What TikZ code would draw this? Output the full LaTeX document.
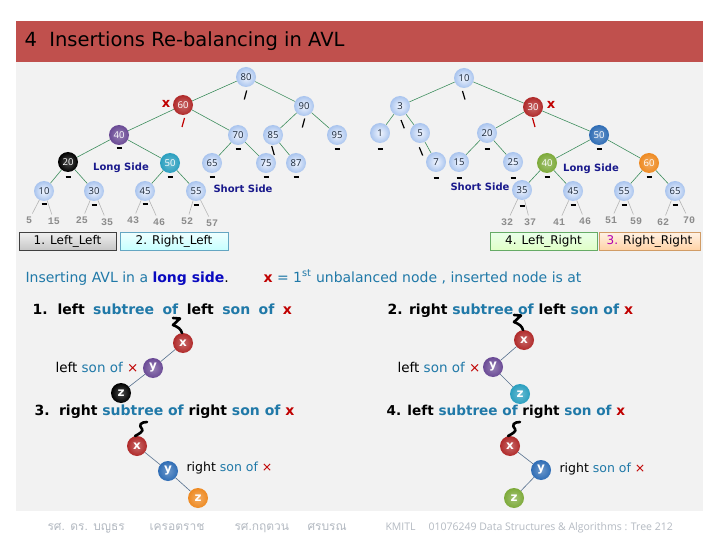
\documentclass[tikz,border=0pt]{standalone}
\usepackage{fontspec}
\setmainfont{DejaVu Sans}
\newfontfamily\numf{Open Sans}
\newfontfamily\thaifont[Script=Thai]{Loma}
\newfontfamily\monof{Liberation Mono}
\definecolor{titlered}{HTML}{C0504D}
\definecolor{panel}{HTML}{F2F2F2}
\definecolor{lblueO}{HTML}{A9C4EE}
\definecolor{lblueI}{HTML}{F2F6FF}
\definecolor{nodetext}{HTML}{1C2838}
\definecolor{redn}{HTML}{B02A2A}
\definecolor{purplen}{HTML}{6A4A95}
\definecolor{tealn}{HTML}{2A9FBF}
\definecolor{bluen}{HTML}{2F6DB5}
\definecolor{greenn}{HTML}{7DAA3A}
\definecolor{orangen}{HTML}{EE8A22}
\definecolor{edgegreen}{HTML}{3E8E5E}
\definecolor{leafgray}{HTML}{8C8C8C}
\definecolor{leafline}{HTML}{B4B4B4}
\definecolor{sidetxt}{HTML}{1A1A8C}
\definecolor{tealtxt}{HTML}{2079A8}
\definecolor{longblue}{HTML}{0A0AC0}
\definecolor{xred}{HTML}{C00000}
\definecolor{footgray}{HTML}{B4BAC2}
\definecolor{slate}{HTML}{56708E}
\definecolor{magtxt}{HTML}{B000B0}
\newcommand\tlc[1]{\textcolor{tealtxt}{#1}}
\newcommand\xrc[1]{\textcolor{xred}{#1}}
\newcommand\gap{\hspace{3.6pt}}
\begin{document}
\begin{tikzpicture}[x=1pt,y=-1pt,
  bn/.style={circle, minimum size=20pt, inner sep=0pt, inner color=lblueI, outer color=lblueO,
    text=nodetext, font=\numf\fontsize{9.5}{10}\selectfont},
  cn/.style={circle, minimum size=20pt, inner sep=0pt, inner color=#1!70!white, outer color=#1,
    text=white, font=\numf\fontsize{9.5}{10}\selectfont},
  sn/.style={circle, minimum size=20pt, inner sep=0pt, inner color=#1!70!white, outer color=#1,
    text=white, font=\bfseries\fontsize{12}{12}\selectfont},
  edge/.style={draw=edgegreen, line width=0.6pt},
  leafline/.style={draw=leafline, line width=0.6pt, shorten >=1pt},
  leaf/.style={font=\monof\bfseries\fontsize{10}{10}\selectfont, text=leafgray, inner sep=2pt},
  bal/.style={line width=1.8pt, black},
  balred/.style={line width=1.2pt, xred},
  balsl/.style={line width=1.2pt, black},
  side/.style={font=\bfseries\fontsize{10}{10}\selectfont, text=sidetxt},
  box/.style={draw, minimum height=18pt, inner sep=0pt, font=\fontsize{12}{12}\selectfont},
  xmark/.style={font=\bfseries\fontsize{13}{13}\selectfont, text=xred, inner sep=0pt},
  sline/.style={draw=slate, line width=0.6pt},
  squig/.style={line width=2.6pt, black, line cap=round, line join=round},
  head/.style={anchor=base west, font=\bfseries\fontsize{14}{15}\selectfont},
  small/.style={font=\fontsize{12.5}{13}\selectfont},
  foot/.style={anchor=base west, text=footgray}
]
\useasboundingbox (0,0) rectangle (720,540);
\fill[white] (0,0) rectangle (720,540);
\fill[panel] (16,62) rectangle (703,511);
\fill[titlered] (16,21) rectangle (703,62);
\node[anchor=west, font=\fontsize{19.5}{21}\selectfont, text=black] (title) at (21,41) {4\ \ Insertions Re-balancing in AVL};

% ---------- Tree 1 ----------
\node[bn] (a80) at (246,77) {80};
\node[cn=redn] (a60) at (183,105) {60};
\node[bn] (a90) at (304,106) {90};
\node[cn=purplen] (a40) at (119,135) {40};
\node[bn] (a70) at (238,135) {70};
\node[bn] (a85) at (273,135) {85};
\node[bn] (a95) at (337,135) {95};
\node[cn=black] (a20) at (68,162) {20};
\node[cn=tealn] (a50) at (170,163) {50};
\node[bn] (a65) at (212,163) {65};
\node[bn] (a75) at (266,163) {75};
\node[bn] (a87) at (296,163) {87};
\node[bn] (a10) at (44,191) {10};
\node[bn] (a30) at (94,191) {30};
\node[bn] (a45) at (145,191) {45};
\node[bn] (a55) at (196,191) {55};
\node[leaf] (l5) at (29,220) {5};
\node[leaf] (l15) at (54,221) {15};
\node[leaf] (l25) at (82,220) {25};
\node[leaf] (l35) at (107,222) {35};
\node[leaf] (l43) at (133,220) {43};
\node[leaf] (l46) at (159,222) {46};
\node[leaf] (l52) at (187,221) {52};
\node[leaf] (l57) at (212,223) {57};
\draw[edge] (a80) -- (a60);
\draw[edge] (a80) -- (a90);
\draw[edge] (a60) -- (a40);
\draw[edge] (a60) -- (a70);
\draw[edge] (a40) -- (a20);
\draw[edge] (a40) -- (a50);
\draw[edge] (a20) -- (a10);
\draw[edge] (a20) -- (a30);
\draw[edge] (a50) -- (a45);
\draw[edge] (a50) -- (a55);
\draw[edge] (a70) -- (a65);
\draw[edge] (a70) -- (a75);
\draw[edge] (a90) -- (a85);
\draw[edge] (a90) -- (a95);
\draw[edge] (a85) -- (a87);
\draw[leafline] (a10) -- (l5);
\draw[leafline] (a10) -- (l15);
\draw[leafline] (a30) -- (l25);
\draw[leafline] (a30) -- (l35);
\draw[leafline] (a45) -- (l43);
\draw[leafline] (a45) -- (l46);
\draw[leafline] (a55) -- (l52);
\draw[leafline] (a55) -- (l57);
\node[xmark] (xa) at (166,104) {x};
% balance marks tree 1
\foreach \p in {(119,148),(238,149),(337,149),(68,177),(170,177),(212,177),(266,177),(296,177),(44,204),(94,205),(145,204),(196,205)}
  \draw[bal] \p ++(-2.5,0) -- ++(5,0);
\draw[balsl] (246.7,90.5) -- (244.3,99.5);
\draw[balsl] (304.7,118.5) -- (302.3,127.5);
\draw[balred] (184.5,118) -- (182,127);
\draw[balsl] (271.7,146) -- (274.3,155);
\node[side] (ls1) at (121,168) {Long Side};
\node[side] (ss1) at (243,189) {Short Side};
\node[box, minimum width=97pt, top color=white!94!black, bottom color=white!78!black, draw=black!75] (bx1) at (67.5,241) {1. Left\_Left};
\node[box, minimum width=108pt, top color=cyan!6, bottom color=cyan!22, draw=cyan!50!gray] (bx2) at (174,241) {2. Right\_Left};

% ---------- Tree 2 ----------
\node[bn] (b10) at (464,78) {10};
\node[bn] (b3) at (400,106) {3};
\node[cn=redn] (b30) at (533,107) {30};
\node[bn] (b1) at (380,133) {1};
\node[bn] (b5) at (420,133) {5};
\node[bn] (b20) at (487,133) {20};
\node[cn=bluen] (b50) at (599,135) {50};
\node[bn] (b7) at (436,162) {7};
\node[bn] (b15) at (459,162) {15};
\node[bn] (b25) at (513,162) {25};
\node[cn=greenn] (b40) at (547,163) {40};
\node[cn=orangen] (b60) at (649,163) {60};
\node[bn] (b35) at (522,190) {35};
\node[bn] (b45) at (573,191) {45};
\node[bn] (b55) at (624,191) {55};
\node[bn] (b65) at (675,191) {65};
\node[leaf] (m32) at (507,222) {32};
\node[leaf] (m37) at (530,222) {37};
\node[leaf] (m41) at (559,222) {41};
\node[leaf] (m46) at (585,221) {46};
\node[leaf] (m51) at (611,220) {51};
\node[leaf] (m59) at (636,221) {59};
\node[leaf] (m62) at (663,222) {62};
\node[leaf] (m70) at (689,220) {70};
\draw[edge] (b10) -- (b3);
\draw[edge] (b10) -- (b30);
\draw[edge] (b3) -- (b1);
\draw[edge] (b3) -- (b5);
\draw[edge] (b5) -- (b7);
\draw[edge] (b30) -- (b20);
\draw[edge] (b30) -- (b50);
\draw[edge] (b20) -- (b15);
\draw[edge] (b20) -- (b25);
\draw[edge] (b50) -- (b40);
\draw[edge] (b50) -- (b60);
\draw[edge] (b40) -- (b35);
\draw[edge] (b40) -- (b45);
\draw[edge] (b60) -- (b55);
\draw[edge] (b60) -- (b65);
\draw[leafline] (b35) -- (m32);
\draw[leafline] (b35) -- (m37);
\draw[leafline] (b45) -- (m41);
\draw[leafline] (b45) -- (m46);
\draw[leafline] (b55) -- (m51);
\draw[leafline] (b55) -- (m59);
\draw[leafline] (b65) -- (m62);
\draw[leafline] (b65) -- (m70);
\node[xmark] (xb) at (551,105) {x};
\foreach \p in {(380,149),(487,149),(599,149),(436,178),(459,178),(513,178),(547,177),(649,177),(522,206),(573,205),(624,205),(675,205)}
  \draw[bal] \p ++(-2.5,0) -- ++(5,0);
\draw[balsl] (462.5,91) -- (465,99.5);
\draw[balsl] (401,120) -- (404.3,128.3);
\draw[balsl] (419.3,147.3) -- (422.7,155.5);
\draw[balred] (532.5,118) -- (535,127);
\node[side] (ss2) at (480,187) {Short Side};
\node[side] (ls2) at (591,169) {Long Side};
\node[box, minimum width=107pt, top color=green!8!white, bottom color=green!55!yellow!22!white, draw=green!45!black!60] (bx4) at (543.5,241) {4. Left\_Right};
\node[box, minimum width=101pt, top color=orange!10!white, bottom color=orange!35!white, draw=orange!70!black!60] (bx3) at (649.5,241) {\textcolor{magtxt}{3.} Right\_Right};

% ---------- Explanation text ----------
\node[anchor=base west, font=\fontsize{14}{15}\selectfont, text=tealtxt] (t1) at (22,282) {Inserting AVL in a \textcolor{longblue}{\bfseries long side}\textcolor{black}{.}};
\node[anchor=base west, font=\fontsize{14}{15}\selectfont, text=tealtxt] (t2) at (260,282) {\textcolor{xred}{\bfseries x} = 1\textsuperscript{st} unbalanced node , inserted node is at};
\node[head] (h1) at (29,314) {1.\gap{} left\gap{} \tlc{subtree\gap{} of}\gap{} left\gap{} \tlc{son\gap{} of}\gap{} \xrc{x}};
\node[head] (h2) at (384,314) {2. right \tlc{subtree of} left \tlc{son of} \xrc{x}};
\node[head] (h3) at (31,415) {3.\hspace{3pt} right \tlc{subtree of} right \tlc{son of} \xrc{x}};
\node[head, font=\bfseries\fontsize{13.6}{15}\selectfont] (h4) at (383,415) {4. left \tlc{subtree of} right \tlc{son of} \xrc{x}};

% diagram 1
\node[sn=redn] (x1) at (183,343) {x};
\node[sn=purplen] (y1) at (153,368) {y};
\node[sn=black] (z1) at (121,393) {z};
\draw[sline] (x1) -- (y1);
\draw[sline] (y1) -- (z1);
\draw[squig, shift={(183,343)}] (-10,-25) -- (-3,-24.5) -- (-10,-18) .. controls (-5,-16) and (-2,-14) .. (-1,-10);
\node[small, font=\fontsize{13.5}{14}\selectfont, anchor=east] (c1) at (142,367) {left \tlc{son of} \xrc{×}};
% diagram 2
\node[sn=redn] (x2) at (524,340) {x};
\node[sn=purplen] (y2) at (493,367) {y};
\node[sn=tealn] (z2) at (520,394) {z};
\draw[sline] (x2) -- (y2);
\draw[sline] (y2) -- (z2);
\draw[squig, shift={(524,340)}] (-10,-25) -- (-3,-24.5) -- (-10,-18) .. controls (-5,-16) and (-2,-14) .. (-1,-10);
\node[small, font=\fontsize{13.5}{14}\selectfont, anchor=east] (c2) at (484,367) {left \tlc{son of} \xrc{×}};
% diagram 3
\node[sn=redn] (x3) at (137,446) {x};
\node[sn=bluen] (y3) at (168,471) {y};
\node[sn=orangen] (z3) at (198,498) {z};
\draw[sline] (x3) -- (y3);
\draw[sline] (y3) -- (z3);
\draw[squig, shift={(137,446)}] (10,-24) .. controls (4,-24) and (1,-21) .. (5,-17) .. controls (7,-15) and (2,-12) .. (-2,-10);
\node[small, anchor=west] (c3) at (183,468) {right \tlc{son of} \xrc{×}};
% diagram 4
\node[sn=redn] (x4) at (510,446) {x};
\node[sn=bluen] (y4) at (541,470) {y};
\node[sn=greenn] (z4) at (514,498) {z};
\draw[sline] (x4) -- (y4);
\draw[sline] (y4) -- (z4);
\draw[squig, shift={(510,446)}] (10,-24) .. controls (4,-24) and (1,-21) .. (5,-17) .. controls (7,-15) and (2,-12) .. (-2,-10);
\node[small, anchor=west] (c4) at (556,469) {right \tlc{son of} \xrc{×}};

% ---------- footer ----------
\node[foot, font=\thaifont\fontsize{12}{12}\selectfont] (f1) at (44,530) {รศ. ดร. บญธร};
\node[foot, font=\thaifont\fontsize{12}{12}\selectfont] (f2) at (146,530) {เครอตราช};
\node[foot, font=\thaifont\fontsize{12}{12}\selectfont] (f3) at (231,530) {รศ.กฤตวน};
\node[foot, font=\thaifont\fontsize{12}{12}\selectfont] (f4) at (304,530) {ศรบรณ};
\node[foot, font=\numf\fontsize{10.5}{11}\selectfont] (f5) at (382,530) {KMITL};
\node[foot, font=\numf\fontsize{10.5}{11}\selectfont] (f6) at (425,530) {01076249 Data Structures \& Algorithms : Tree 212};
\end{tikzpicture}
\end{document}
